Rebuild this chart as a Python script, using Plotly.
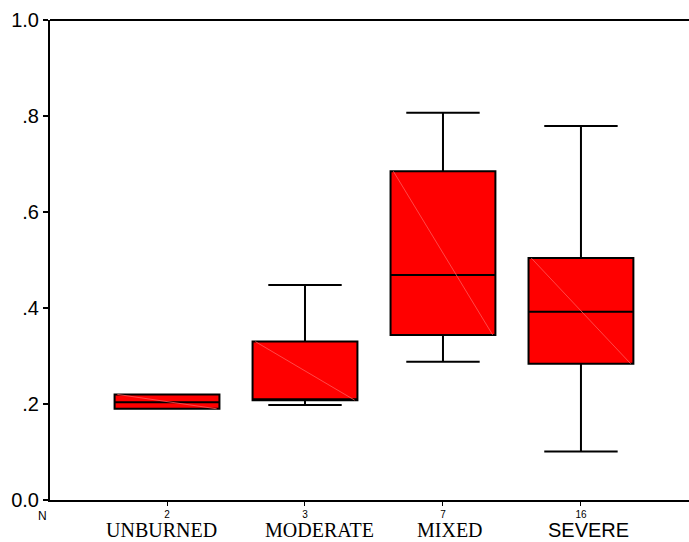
import plotly.graph_objects as go

# Group summaries (five-number summaries per burn class)
groups = ["UNBURNED", "MODERATE", "MIXED", "SEVERE"]
n_counts = ["2", "3", "7", "16"]
lower_whisker = [0.190, 0.198, 0.288, 0.101]
q1 = [0.190, 0.208, 0.344, 0.284]
median = [0.2035, 0.210, 0.469, 0.392]
q3 = [0.220, 0.330, 0.685, 0.504]
upper_whisker = [0.220, 0.448, 0.807, 0.779]

y_tick_vals = [0.0, 0.2, 0.4, 0.6, 0.8, 1.0]
y_tick_text = ["0.0", ".2", ".4", ".6", ".8", "1.0"]

positions = list(range(len(groups)))
box_half = 0.38

fig = go.Figure()
fig.add_trace(go.Box(
    x=positions,
    q1=q1, median=median, q3=q3,
    lowerfence=lower_whisker, upperfence=upper_whisker,
    fillcolor="#ff0000",
    line=dict(color="black", width=2),
    whiskerwidth=0.7,
    width=box_half * 2,
    showlegend=False,
    hoverinfo="skip",
))

# faint shading diagonal across each box
for i, p in enumerate(positions):
    fig.add_trace(go.Scatter(
        x=[p - box_half + 0.02, p + box_half - 0.02],
        y=[q3[i], q1[i]],
        mode="lines",
        line=dict(color="#ff5a5a", width=0.8),
        showlegend=False, hoverinfo="skip",
    ))

fig.update_layout(
    width=689, height=542,
    margin=dict(l=50, r=0, t=20, b=42),
    plot_bgcolor="white", paper_bgcolor="white",
    showlegend=False,
    font=dict(family="Liberation Sans, Arial, sans-serif", color="black"),
)

fig.update_xaxes(
    range=[-0.848, 3.783],
    tickmode="array", tickvals=positions, ticktext=n_counts,
    tickfont=dict(size=10, family="Liberation Sans, Arial, sans-serif"),
    ticks="outside", ticklen=4, tickwidth=1, tickcolor="black",
    ticklabelstandoff=0,
    showline=True, linecolor="black", linewidth=2,
    showgrid=False, zeroline=False,
)
fig.update_yaxes(
    range=[0, 1],
    tickmode="array", tickvals=y_tick_vals, ticktext=y_tick_text,
    tickfont=dict(size=20, family="Liberation Sans, Arial, sans-serif"),
    ticks="outside", ticklen=5, tickwidth=2, tickcolor="black",
    showline=True, linecolor="black", linewidth=2,
    showgrid=False, zeroline=False,
)

# top frame line
fig.add_shape(type="line", xref="paper", yref="paper",
              x0=0, x1=1, y0=1, y1=1,
              line=dict(color="black", width=2))

# group names under the counts
name_shift = [-6, 15, 7, 8]
for i, name in enumerate(groups):
    if name == "SEVERE":
        fnt = dict(size=20, family="Liberation Sans, Arial, sans-serif", color="black")
    else:
        fnt = dict(size=20, family="Liberation Serif, Times New Roman, serif", color="black")
    fig.add_annotation(x=positions[i], xref="x", y=-0.0875, yref="paper",
                       text=name, showarrow=False, font=fnt,
                       xshift=name_shift[i],
                       yanchor="bottom", borderpad=0)

fig.add_annotation(x=-0.012, xref="paper", y=-0.033, yref="paper",
                   text="N", showarrow=False, xanchor="center",
                   font=dict(size=12, color="black"), yanchor="middle")

fig.write_html("out.html")
